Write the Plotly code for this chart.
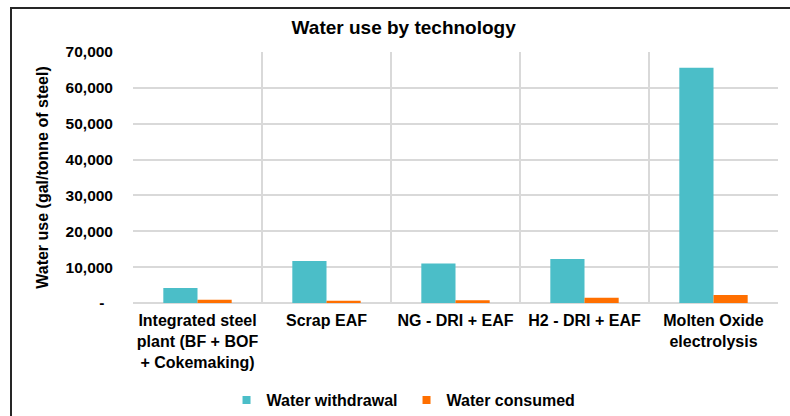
import plotly.graph_objects as go

# Water use per tonne of steel, by production route
technologies = [
    "Integrated steel<br>plant (BF + BOF<br>+ Cokemaking)",
    "Scrap EAF",
    "NG - DRI + EAF",
    "H2 - DRI + EAF",
    "Molten Oxide<br>electrolysis",
]
water_withdrawal = [4150, 11700, 11000, 12300, 65600]
water_consumed = [900, 650, 750, 1450, 2250]

y_tick_values = [0, 10000, 20000, 30000, 40000, 50000, 60000, 70000]
# accounting-style zero: a dash padded in from the right
y_tick_labels = ["-\u00a0\u00a0", "10,000", "20,000", "30,000", "40,000", "50,000", "60,000", "70,000"]

TEAL = "#4BBEC8"
ORANGE = "#FF6F00"
GRID = "#D9D9D9"
FONT = "Liberation Sans, Arial, sans-serif"

fig = go.Figure()
fig.add_trace(go.Bar(x=technologies, y=water_withdrawal, name="Water withdrawal",
                     marker=dict(color=TEAL, line=dict(width=0)), showlegend=False))
fig.add_trace(go.Bar(x=technologies, y=water_consumed, name="Water consumed",
                     marker=dict(color=ORANGE, line=dict(width=0)), showlegend=False))

# Small square legend keys
for name, color in [("Water withdrawal", TEAL), ("Water consumed", ORANGE)]:
    fig.add_trace(go.Scatter(x=[None], y=[None], mode="markers", name=name,
                             marker=dict(symbol="square", size=8, color=color)))

fig.update_layout(
    width=790, height=416,
    margin=dict(l=133, r=12, t=52, b=113, autoexpand=False),
    paper_bgcolor="white", plot_bgcolor="white",
    font=dict(family=FONT, size=15, color="black", weight="bold"),
    barmode="group", bargap=0.47, bargroupgap=0,
    title=dict(text="Water use by technology", x=0.511, xref="container", xanchor="center",
               y=1 - 27 / 416, yref="container", yanchor="middle",
               font=dict(size=19, family=FONT, color="black", weight="bold")),
    legend=dict(orientation="h", x=0.145, xanchor="left", y=(303 - 400) / 251, yanchor="middle",
                font=dict(size=16, family=FONT, color="black", weight="bold"),
                entrywidth=135, entrywidthmode="pixels", bgcolor="rgba(0,0,0,0)"),
    xaxis=dict(type="category", tickson="boundaries", showgrid=True, gridcolor=GRID,
               gridwidth=1.5, ticks="", showline=False, ticklabelstandoff=6, tickangle=0,
               tickfont=dict(size=16, family=FONT, color="black", weight="bold")),
    yaxis=dict(range=[0, 70000], tickvals=y_tick_values, ticktext=y_tick_labels,
               showgrid=True, gridcolor=GRID, gridwidth=1.5, zeroline=True,
               zerolinecolor=GRID, zerolinewidth=1.5, showline=False, ticks="",
               ticklabelstandoff=19,
               tickfont=dict(size=15.5, family=FONT, color="black", weight="bold"),
               title=dict(text="Water use (gal/tonne of steel)", standoff=12,
                          font=dict(size=16, family=FONT, color="black", weight="bold"))),
    shapes=[dict(type="rect", xref="paper", yref="paper",
                 x0=-122 / 645, x1=1.04, y0=-0.5, y1=1 + 44 / 251,
                 line=dict(color="#262626", width=2), fillcolor="rgba(0,0,0,0)",
                 layer="below")],
)

fig.write_html("out.html")
